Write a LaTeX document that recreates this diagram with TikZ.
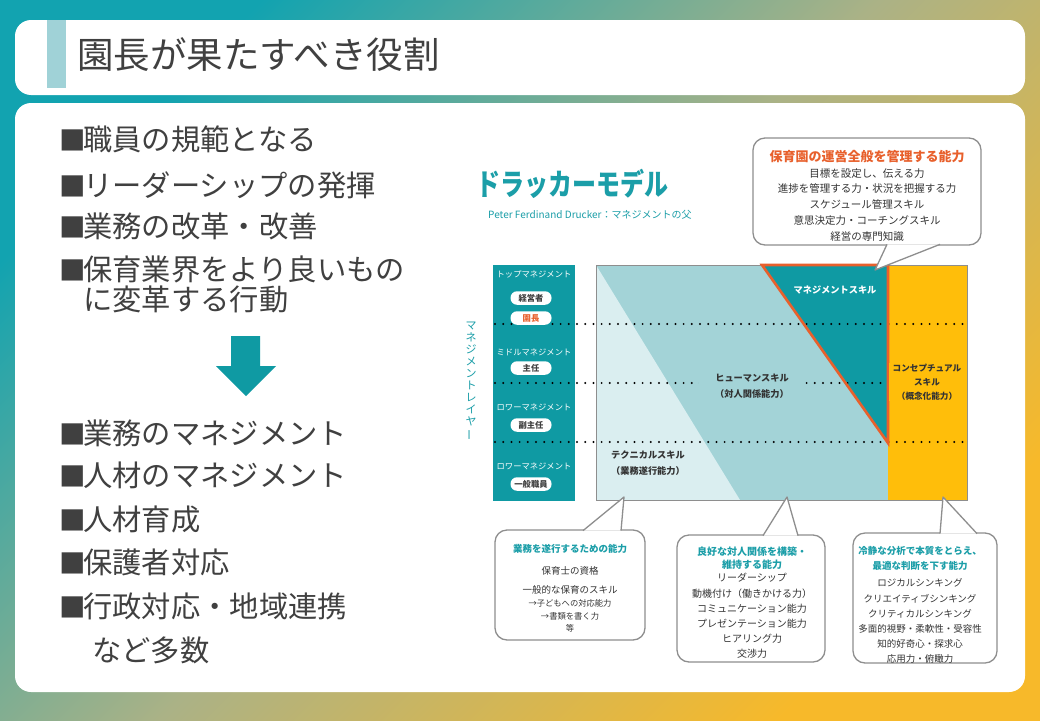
\documentclass[tikz,border=0pt]{standalone}
\usepackage{fontspec}
\setmainfont{Noto Sans CJK JP}
\usetikzlibrary{calc}
\definecolor{bgteal}{HTML}{12A3B0}
\definecolor{bgmid}{HTML}{ABB286}
\definecolor{bggold}{HTML}{F7B92A}
\definecolor{inkgray}{HTML}{404040}
\definecolor{accentteal}{HTML}{A0D2D7}
\definecolor{deepteal}{HTML}{0F9AA3}
\definecolor{paleteal}{HTML}{DAEEF0}
\definecolor{midteal}{HTML}{A3D3D7}
\definecolor{skillgold}{HTML}{FFBE0A}
\definecolor{mgmtorange}{HTML}{E8602C}
\definecolor{edgegray}{HTML}{8E8E8E}
\definecolor{headteal}{HTML}{1B9EA8}
\newcommand{\jfs}[2]{\fontsize{#1}{#2}\selectfont}
\newcommand{\calloutHead}[1]{\textcolor{headteal}{\bfseries #1}}
\newcommand{\sqmark}{{\jfs{26.5}{28}■}\hspace{-2.5pt}}
\begin{document}
\begin{tikzpicture}[x=1pt, y=-1pt,
  listitem/.style={anchor=west, inner sep=0pt, text=inkgray, font=\jfs{29.3}{31}},
  layername/.style={text=white, inner sep=0pt, font=\jfs{8.3}{9}},
  pill/.style={fill=white, rounded corners=6.5pt, minimum width=41pt, minimum height=13.5pt, inner sep=0pt, font=\jfs{8.3}{9}\bfseries, text=inkgray},
  skilllabel/.style={align=center, inner sep=0pt, font=\jfs{9.2}{16}\bfseries, text=black!80},
  calloutbox/.style={draw=edgegray, fill=white, line width=1.3pt, rounded corners=12pt, inner sep=0pt},
  callouttail/.style={draw=edgegray, fill=white, line width=1.3pt, line join=round},
  callouttext/.style={align=center, inner sep=0pt, text=black!80},
  layerline/.style={line width=2.2pt, line cap=round, dash pattern=on 0pt off 8.2pt}]
  \useasboundingbox (0,0) rectangle (1040,720);
  \shade[top color=bgteal, bottom color=bggold, middle color=bgmid, shading angle=45] (0,0) rectangle (1040,720);
  \fill[white, rounded corners=16pt] (15,20) rectangle (1025,95);
  \fill[white, rounded corners=16pt] (15,103) rectangle (1025,692);
  \fill[accentteal] (47,20) rectangle (66,88);
  \node[anchor=west, inner sep=0pt, text=inkgray, font=\jfs{36.5}{40}] (pagetitle) at (77,55) {園長が果たすべき役割};

  \node[listitem] (norm) at (59,139) {\sqmark 職員の規範となる};
  \node[listitem] (lead) at (59,185) {\sqmark リーダーシップの発揮};
  \node[listitem] (reform) at (59,226) {\sqmark 業務の改革・改善};
  \node[listitem] (better) at (59,269) {\sqmark 保育業界をより良いもの};
  \node[listitem] (bettercont) at (83,299) {に変革する行動};
  \fill[deepteal] (231,336) -- (260,336) -- (260,366) -- (276,366) -- (246,396) -- (216,366) -- (231,366) -- cycle;
  \node[listitem] (opmgmt) at (59,433) {\sqmark 業務のマネジメント};
  \node[listitem] (hrmgmt) at (59,475) {\sqmark 人材のマネジメント};
  \node[listitem] (training) at (59,519) {\sqmark 人材育成};
  \node[listitem] (parents) at (59,562) {\sqmark 保護者対応};
  \node[listitem] (admin) at (59,606) {\sqmark 行政対応・地域連携};
  \node[listitem] (etc) at (92,650) {など多数};

  \node[anchor=west, inner sep=0pt, text=headteal, font=\jfs{30}{32}\bfseries] (modeltitle) at (476,184) {\scalebox{0.8}[1]{ドラッカーモデル}};
  \node[anchor=west, inner sep=0pt, text=headteal, font=\jfs{10}{11}] (modelsub) at (488,215) {Peter Ferdinand Drucker：マネジメントの父};

  \fill[deepteal] (493,265) rectangle (575,501);
  \fill[midteal] (596,265) rectangle (888,500);
  \fill[paleteal] (596,265) -- (740,500) -- (596,500) -- cycle;
  \fill[skillgold] (888,265) rectangle (967,500);
  \fill[deepteal] (762,265) -- (888,265) -- (888,443) -- cycle;
  \draw[edgegray, line width=1pt] (596,265) rectangle (967,500);
  \foreach \ly in {324,383,442}
    \draw[layerline] (495,\ly) -- (967,\ly);
  \draw[mgmtorange, line width=2.6pt] (762,265) -- (888,265) -- (888,443) -- cycle;

  \node[text=headteal, align=center, inner sep=0pt, font=\jfs{11}{12}] (layeraxis) at (471,381) {マ\\ネ\\ジ\\メ\\ン\\ト\\レ\\イ\\ヤ\\\rotatebox[origin=c]{90}{ー}};
  \node[layername] (toplayer) at (534,274) {トップマネジメント};
  \node[pill] (ceo) at (531,298) {経営者};
  \node[pill, text=mgmtorange] (director) at (531,318) {園長};
  \node[layername] (midlayer) at (534,352) {ミドルマネジメント};
  \node[pill] (chief) at (531,368) {主任};
  \node[layername] (lowlayer) at (534,407) {ロワーマネジメント};
  \node[pill] (subchief) at (531,425) {副主任};
  \node[layername] (baselayer) at (534,466) {ロワーマネジメント};
  \node[pill] (staff) at (531,484) {一般職員};

  \node[skilllabel, text=white] (mgmtskill) at (835,290) {マネジメントスキル};
  \node[skilllabel, fill=midteal, minimum width=106pt, inner ysep=1pt] (humanskill) at (752,386) {ヒューマンスキル\\（対人関係能力）};
  \node[skilllabel, fill=skillgold, minimum width=76pt, inner ysep=1pt, font=\jfs{8.6}{14}\bfseries] (conceptskill) at (927,382) {コンセプチュアル\\スキル\\（概念化能力）};
  \node[skilllabel] (techskill) at (648,463) {テクニカルスキル\\（業務遂行能力）};

  \coordinate (mgmttip) at (875,270);
  \coordinate (techtip) at (624,497);
  \coordinate (humantip) at (787,497);
  \coordinate (concepttip) at (943,497);

  \node[calloutbox, minimum width=228pt, minimum height=107pt] (mgmtbox) at (867,191.5) {};
  \path[callouttail] ([xshift=20pt, yshift=1.3pt]mgmtbox.south) -- (mgmttip) -- ([xshift=73pt, yshift=1.3pt]mgmtbox.south);
  \node[callouttext, font=\jfs{10.5}{15.6}] (mgmttext) at (867,196) {{\jfs{13}{15.6}\bfseries\color{mgmtorange}保育園の運営全般を管理する能力}\\目標を設定し、伝える力\\進捗を管理する力・状況を把握する力\\[0.4pt]スケジュール管理スキル\\[0.4pt]意思決定力・コーチングスキル\\[0.4pt]経営の専門知識};

  \node[calloutbox, minimum width=150pt, minimum height=110pt] (techbox) at (570,585) {};
  \path[callouttail] ([xshift=13pt, yshift=-1.3pt]techbox.north) -- (techtip) -- ([xshift=51pt, yshift=-1.3pt]techbox.north);
  \node[callouttext, font=\jfs{9.5}{13.5}] (techtext) at (570,588) {\calloutHead{業務を遂行するための能力}\\[8.5pt]保育士の資格\\[5.5pt]一般的な保育のスキル\\{\jfs{8.3}{13.5}→子どもへの対応能力}\\[-0.5pt]{\jfs{8.3}{13.5}→書類を書く力}\\[-1.5pt]{\jfs{8.3}{13.5}等}};

  \node[calloutbox, minimum width=148pt, minimum height=127pt] (humanbox) at (751,598.5) {};
  \path[callouttail] ([xshift=12pt, yshift=-1.3pt]humanbox.north) -- (humantip) -- ([xshift=47pt, yshift=-1.3pt]humanbox.north);
  \node[callouttext, font=\jfs{10}{14.5}] (humantext) at (752,602.5) {\calloutHead{良好な対人関係を構築・}\\[-1.5pt]\calloutHead{維持する能力}\\[-1.5pt]リーダーシップ\\[1.5pt]動機付け（働きかける力）\\[0.5pt]コミュニケーション能力\\[0.5pt]プレゼンテーション能力\\[0.5pt]ヒアリング力\\交渉力};

  \node[calloutbox, minimum width=144pt, minimum height=130pt] (conceptbox) at (925,598) {};
  \path[callouttail] ([xshift=15pt, yshift=-1.3pt]conceptbox.north) -- (concepttip) -- ([xshift=52pt, yshift=-1.3pt]conceptbox.north);
  \node[callouttext, font=\jfs{9.5}{15}] (concepttext) at (920,605) {\calloutHead{冷静な分析で本質をとらえ、}\\\calloutHead{最適な判断を下す能力}\\[2pt]ロジカルシンキング\\[1pt]クリエイティブシンキング\\クリティカルシンキング\\多面的視野・柔軟性・受容性\\知的好奇心・探求心\\応用力・俯瞰力};
\end{tikzpicture}
\end{document}
